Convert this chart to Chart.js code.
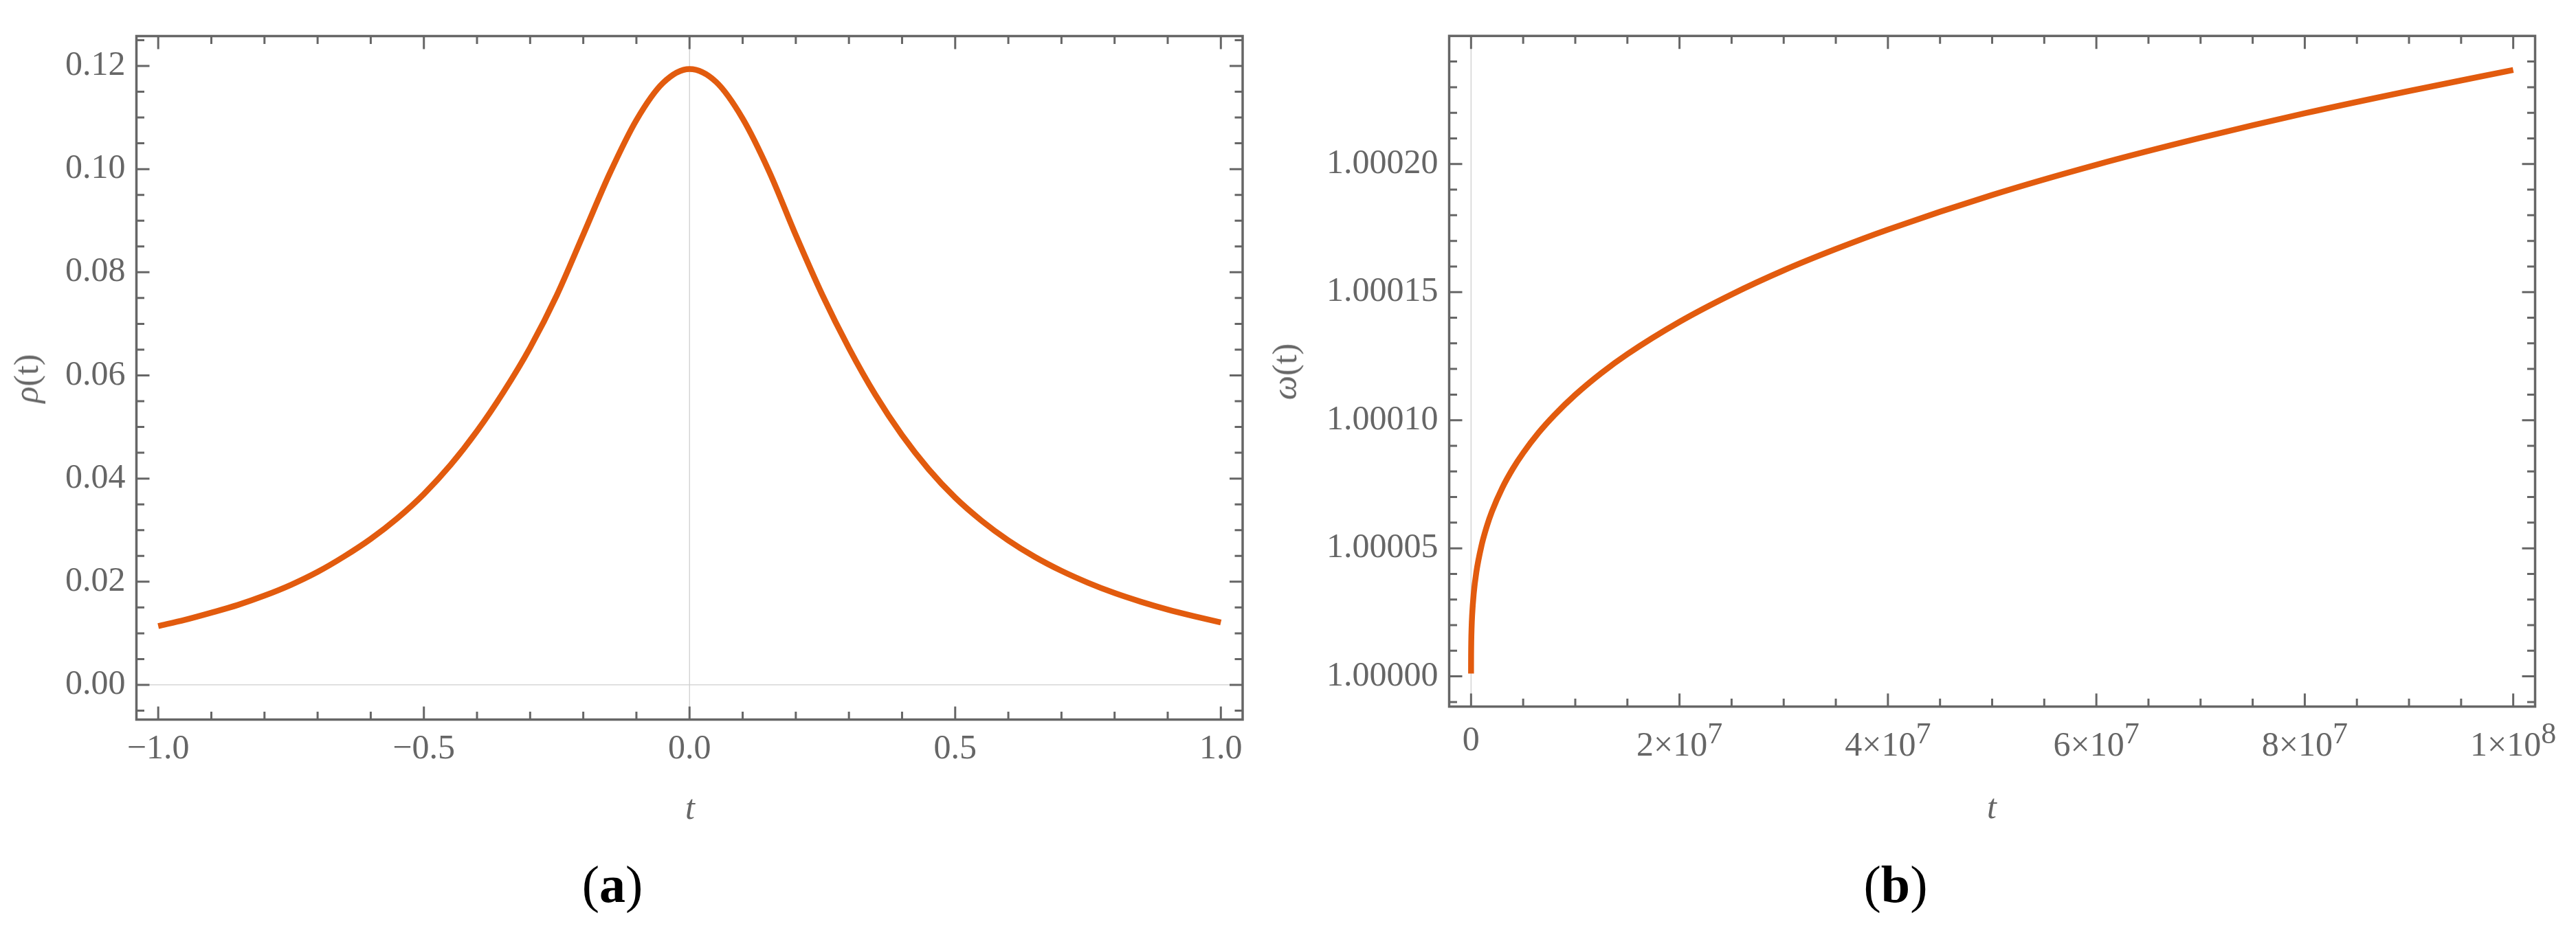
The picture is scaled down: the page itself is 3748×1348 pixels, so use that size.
<!DOCTYPE html>
<html>
<head>
<meta charset="utf-8">
<script src="https://cdn.jsdelivr.net/npm/chart.js@4.4.1/dist/chart.umd.min.js"></script>
<style>
  html, body { margin: 0; padding: 0; background: #fff; }
  body { position: relative; width: 3748px; height: 1348px; overflow: hidden;
         font-family: "Liberation Serif", "Times New Roman", serif; }
  canvas { position: absolute; top: 0; }
  .lab { position: absolute; white-space: nowrap; line-height: 1; color: #666; font-size: 50px;
         transform: translate(-50%, -50%); }
  .rot { transform: translate(-50%, -50%) rotate(-90deg); }
  .cap { color: #000; font-size: 76px; }
</style>
</head>
<body>
<canvas id="chartA" width="1874" height="1348" style="left:0;width:1874px;height:1348px"></canvas>
<canvas id="chartB" width="1874" height="1348" style="left:1874px;width:1874px;height:1348px"></canvas>

<div class="lab rot" style="left:38px;top:551px"><i>ρ</i>(t)</div>
<div class="lab" style="left:1004px;top:1175px"><i>t</i></div>
<div class="lab cap" style="left:891px;top:1287px">(<b>a</b>)</div>

<div class="lab rot" style="left:1869px;top:541px"><i>ω</i>(t)</div>
<div class="lab" style="left:2898px;top:1174px"><i>t</i></div>
<div class="lab cap" style="left:2758px;top:1287px">(<b>b</b>)</div>

<script>
// panel (a): rho(t)
const rhoT = [-1, -0.95, -0.9, -0.85, -0.8, -0.75, -0.7, -0.65, -0.6, -0.55, -0.5,
  -0.45, -0.4, -0.35, -0.3, -0.25, -0.2, -0.15, -0.1, -0.05, 0,
  0.05, 0.1, 0.15, 0.2, 0.25, 0.3, 0.35, 0.4, 0.45, 0.5,
  0.55, 0.6, 0.65, 0.7, 0.75, 0.8, 0.85, 0.9, 0.95, 1];
const rhoVal = [0.0114, 0.0126, 0.0140, 0.0155, 0.0173, 0.0194, 0.0219, 0.0249, 0.0283, 0.0323, 0.0370,
  0.0426, 0.0492, 0.0568, 0.0654, 0.0755, 0.0873, 0.0992, 0.1095, 0.1167, 0.1194,
  0.1169, 0.1098, 0.0995, 0.0872, 0.0756, 0.0653, 0.0562, 0.0484, 0.0418, 0.0363,
  0.0318, 0.0280, 0.0248, 0.0221, 0.0198, 0.0178, 0.0161, 0.0146, 0.0133, 0.0121];
const rhoXTicks = [-1, -0.5, 0, 0.5, 1];
const rhoXLabels = ['−1.0', '−0.5', '0.0', '0.5', '1.0'];
const rhoYTicks = [0, 0.02, 0.04, 0.06, 0.08, 0.1, 0.12];
const rhoYLabels = ['0.00', '0.02', '0.04', '0.06', '0.08', '0.10', '0.12'];

// panel (b): omega(t)
const omegaT = [0, 1e3, 5e3, 2e4, 5e4, 1e5, 2.5e5, 5e5, 1e6, 1.5e6, 2e6, 3e6, 4e6, 5e6, 6.5e6, 8e6, 1e7,
  1.25e7, 1.5e7, 2e7, 2.5e7, 3e7, 3.5e7, 4e7, 5e7, 6e7, 7e7, 8e7, 9e7, 1e8];
const omegaVal = [1.0000011, 1.0000051, 1.0000087, 1.0000138, 1.0000188, 1.0000237, 1.0000321,
  1.0000405, 1.0000510, 1.0000584, 1.0000643, 1.0000736, 1.0000810, 1.0000872, 1.0000952,
  1.0001020, 1.0001099, 1.0001184, 1.0001258, 1.0001384, 1.0001491, 1.0001585, 1.0001668,
  1.0001744, 1.0001879, 1.0001997, 1.0002102, 1.0002198, 1.0002285, 1.0002367];
const omegaXTicks = [0, 2e7, 4e7, 6e7, 8e7, 1e8];
const omegaXLabels = [['0', ''], ['2×10', '7'], ['4×10', '7'], ['6×10', '7'], ['8×10', '7'], ['1×10', '8']];
const omegaYTicks = [1, 1.00005, 1.0001, 1.00015, 1.0002];
const omegaYLabels = ['1.00000', '1.00005', '1.00010', '1.00015', '1.00020'];

const GRAY = '#666666';
const ORANGE = '#e25b0e';
const FONT = '"Liberation Serif", "Times New Roman", serif';

// all tick positions (major + minor) between lo and hi
function steps(lo, hi, step) {
  const out = [];
  for (let k = Math.round(lo / step); k <= Math.round(hi / step); k++) out.push(k * step);
  return out;
}

// Mathematica style frame: box, inward ticks on all four sides, zero axes
function frame(cfg) {
  const near = (list, v) => list.some(m => Math.abs(m - v) < 1e-9 * Math.max(1, Math.abs(m)));
  return {
    id: 'mmaFrame',
    beforeDatasetsDraw(chart) {
      const { ctx, chartArea: a, scales: { x, y } } = chart;
      ctx.save();
      ctx.strokeStyle = '#cfcfcf';
      ctx.lineWidth = 1.3;
      ctx.beginPath();
      if (cfg.zeroX) { const px = x.getPixelForValue(0); ctx.moveTo(px, a.top); ctx.lineTo(px, a.bottom); }
      if (cfg.zeroY) { const py = y.getPixelForValue(0); ctx.moveTo(a.left, py); ctx.lineTo(a.right, py); }
      ctx.stroke();
      ctx.restore();
    },
    afterDatasetsDraw(chart) {
      const { ctx, chartArea: a, scales: { x, y } } = chart;
      ctx.save();
      ctx.strokeStyle = GRAY;
      ctx.lineWidth = 3;
      ctx.beginPath();
      cfg.xAll.forEach(v => {
        const len = near(cfg.xMajor, v) ? 19 : 11.5;
        const px = x.getPixelForValue(v);
        ctx.moveTo(px, a.bottom); ctx.lineTo(px, a.bottom - len);
        ctx.moveTo(px, a.top); ctx.lineTo(px, a.top + len);
      });
      cfg.yAll.forEach(v => {
        const len = near(cfg.yMajor, v) ? 19 : 11.5;
        const py = y.getPixelForValue(v);
        ctx.moveTo(a.left, py); ctx.lineTo(a.left + len, py);
        ctx.moveTo(a.right, py); ctx.lineTo(a.right - len, py);
      });
      ctx.stroke();
      ctx.lineWidth = 3.5;
      ctx.strokeRect(a.left, a.top, a.right - a.left, a.bottom - a.top);
      ctx.restore();
    },
    afterDraw(chart) {
      if (!cfg.supLabels) return;
      const { ctx, chartArea: a, scales: { x } } = chart;
      ctx.save();
      ctx.fillStyle = GRAY;
      ctx.textAlign = 'left';
      ctx.textBaseline = 'alphabetic';
      cfg.supLabels.forEach(([base, sup], i) => {
        const px = x.getPixelForValue(cfg.xMajor[i]);
        ctx.font = '50px ' + FONT;
        const bw = ctx.measureText(base).width;
        ctx.font = '44px ' + FONT;
        const sw = sup ? ctx.measureText(sup).width : 0;
        const x0 = px - (bw + sw) / 2;
        ctx.font = '50px ' + FONT;
        ctx.fillText(base, x0, a.bottom + (sup ? 71.4 : 63.4));
        if (sup) {
          ctx.font = '44px ' + FONT;
          ctx.fillText(sup, x0 + bw, a.bottom + 53);
        }
      });
      ctx.restore();
    }
  };
}

function tickFont() { return { family: FONT, size: 50 }; }

function makeChart(id, d) {
  return new Chart(document.getElementById(id), {
    type: 'line',
    data: {
      datasets: [{
        data: d.xs.map((t, i) => ({ x: t, y: d.ys[i] })),
        borderColor: ORANGE,
        borderWidth: 8.5,
        pointRadius: 0,
        borderJoinStyle: 'round',
        cubicInterpolationMode: 'monotone',
        fill: false
      }]
    },
    options: {
      responsive: false,
      animation: false,
      devicePixelRatio: 1,
      layout: { padding: d.padding },
      plugins: { legend: { display: false }, tooltip: { enabled: false } },
      scales: {
        x: {
          type: 'linear', min: d.xMin, max: d.xMax,
          grid: { display: false, drawTicks: false },
          border: { display: false },
          afterBuildTicks: s => { s.ticks = d.xTicks.map(v => ({ value: v })); },
          afterFit: s => { s.height = d.xHeight; },
          ticks: {
            display: !!d.xLabels, color: GRAY, font: tickFont(), padding: 13,
            maxRotation: 0, autoSkip: false,
            callback: (v, i) => d.xLabels ? d.xLabels[i] : ''
          }
        },
        y: {
          type: 'linear', min: d.yMin, max: d.yMax,
          grid: { display: false, drawTicks: false },
          border: { display: false },
          afterBuildTicks: s => { s.ticks = d.yTicks.map(v => ({ value: v })); },
          afterFit: s => { s.width = d.yWidth; },
          ticks: { color: GRAY, font: tickFont(), padding: 16, callback: (v, i) => d.yLabels[i] }
        }
      }
    },
    plugins: [frame(d.frame)]
  });
}

makeChart('chartA', {
  xs: rhoT, ys: rhoVal,
  xMin: -1.041, xMax: 1.041, yMin: -0.00673, yMax: 0.12579,
  xTicks: rhoXTicks, xLabels: rhoXLabels, yTicks: rhoYTicks, yLabels: rhoYLabels,
  padding: { left: 0, top: 52.5, right: 66, bottom: 0 },
  xHeight: 300.5, yWidth: 198.5,
  frame: {
    xMajor: rhoXTicks, xAll: steps(-1, 1, 0.1),
    yMajor: rhoYTicks, yAll: steps(-0.005, 0.125, 0.005),
    zeroX: true, zeroY: true
  }
});

makeChart('chartB', {
  xs: omegaT, ys: omegaVal,
  xMin: -2.1e6, xMax: 1.021e8, yMin: 0.9999882, yMax: 1.00025,
  xTicks: omegaXTicks, xLabels: null, yTicks: omegaYTicks, yLabels: omegaYLabels,
  padding: { left: 0, top: 52.3, right: 59.5, bottom: 0 },
  xHeight: 319.4, yWidth: 234.5,
  frame: {
    xMajor: omegaXTicks, xAll: steps(0, 1e8, 5e6),
    yMajor: omegaYTicks, yAll: steps(0.99999, 1.00024, 0.00001),
    zeroX: true, zeroY: false,
    supLabels: omegaXLabels
  }
});
</script>
</body>
</html>
